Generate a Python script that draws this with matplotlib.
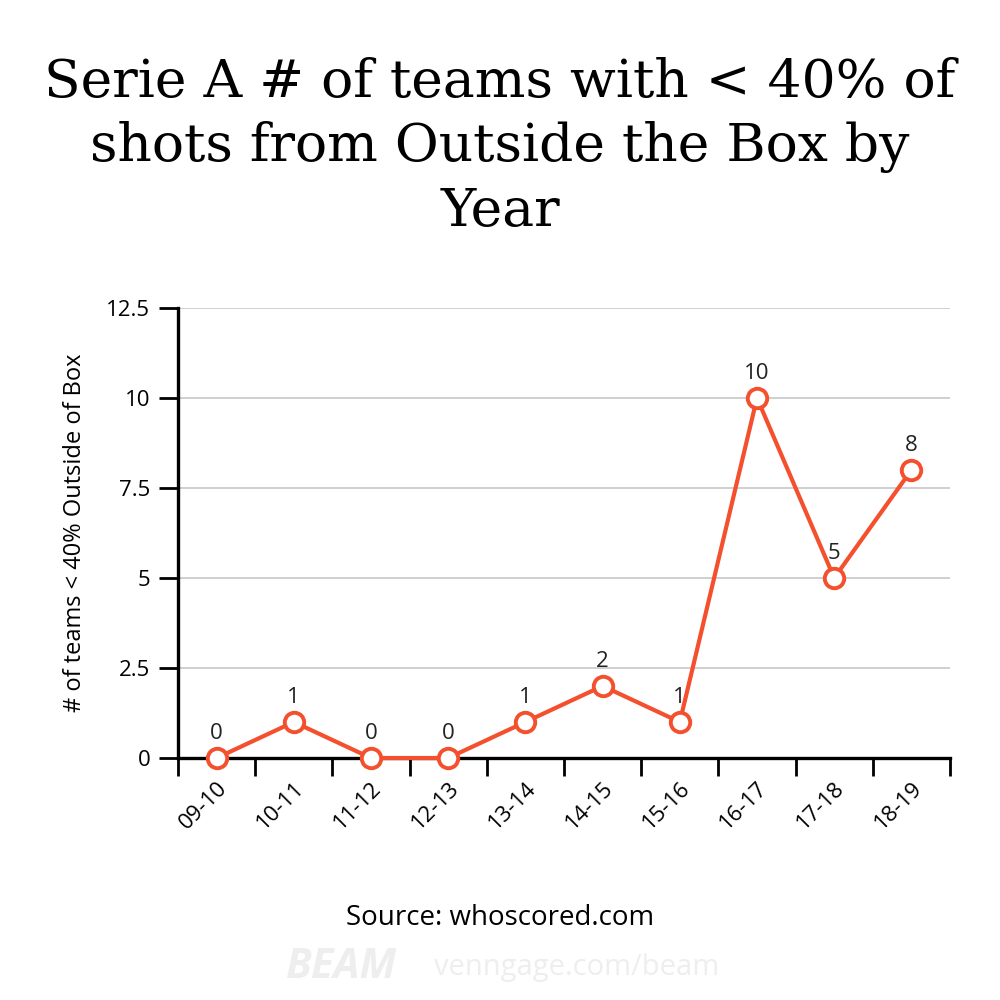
import matplotlib.pyplot as plt

seasons = ["09-10", "10-11", "11-12", "12-13", "13-14", "14-15", "15-16", "16-17", "17-18", "18-19"]
teams = [0, 1, 0, 0, 1, 2, 1, 10, 5, 8]
y_ticks = [0, 2.5, 5, 7.5, 10, 12.5]
y_tick_labels = ["0", "2.5", "5", "7.5", "10", "12.5"]

LINE_COLOR = "#F4502E"

plt.rcParams["font.family"] = ["Open Sans", "DejaVu Sans"]

fig = plt.figure(figsize=(10, 10), dpi=100)
ax = fig.add_axes([0.178, 0.242, 0.772, 0.45])

x = [i + 0.5 for i in range(len(seasons))]
ax.plot(x, teams, color=LINE_COLOR, linewidth=3, marker="o", markersize=14,
        markerfacecolor="white", markeredgecolor=LINE_COLOR, markeredgewidth=2.8,
        zorder=3, clip_on=False)
for xi, v in zip(x, teams):
    ax.annotate(str(v), (xi, v), xytext=(0, 10), textcoords="offset points",
                ha="center", va="bottom", fontsize=16, color="#222222")

ax.set_xlim(0, len(seasons))
ax.set_ylim(0, 12.5)
ax.set_yticks(y_ticks)
ax.set_yticklabels(y_tick_labels)
ax.set_xticks(range(len(seasons) + 1))
ax.set_xticklabels([])
ax.set_xticks(x, minor=True)
ax.set_xticklabels(seasons, minor=True, rotation=45, ha="right", va="top",
                   rotation_mode="anchor")
ax.tick_params(axis="x", which="minor", length=0, pad=14, labelsize=16)
ax.tick_params(axis="x", which="major", length=13, width=2, color="black")
ax.tick_params(axis="y", length=14, width=2, labelsize=16, pad=6)

ax.grid(axis="y", color="#cccccc", linewidth=1.3)
ax.set_axisbelow(True)
for side in ["top", "right"]:
    ax.spines[side].set_visible(False)
ax.spines["left"].set_linewidth(2.4)
ax.spines["bottom"].set_linewidth(2.4)

ax.set_ylabel("# of teams < 40% Outside of Box", fontsize=17, labelpad=14)

fig.text(0.5, 0.853, "Serie A # of teams with < 40% of\nshots from Outside the Box by\nYear",
         ha="center", va="center", fontsize=38.5, family="DejaVu Serif",
         linespacing=1.33)
fig.text(0.5, 0.082, "Source: whoscored.com", ha="center", va="center", fontsize=20)
fig.text(0.341, 0.032, "BEAM", ha="center", va="center", fontsize=30,
         fontweight="bold", style="italic", color="#eeeeee")
fig.text(0.577, 0.032, "venngage.com/beam", ha="center", va="center",
         fontsize=21, color="#eeeeee")

fig.savefig("out.png", dpi=100)
